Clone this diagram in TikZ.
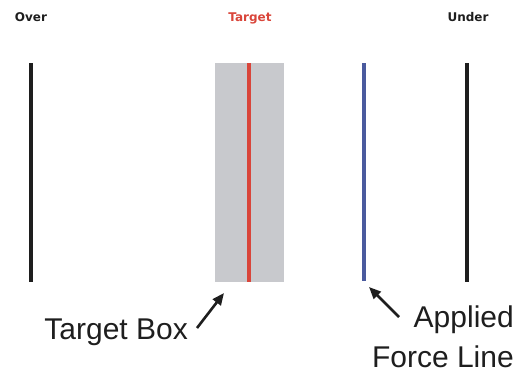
\documentclass[tikz,border=0pt]{standalone}
\usepackage{fontspec}
\setmainfont{Liberation Sans}
\newfontfamily\tagfont{DejaVu Sans}
\usepackage{xcolor}
\usetikzlibrary{arrows.meta}
\definecolor{ink}{HTML}{1E1E1E}
\definecolor{boxgray}{HTML}{C8C9CD}
\definecolor{targetred}{HTML}{D9453A}
\definecolor{forceblue}{HTML}{4A5A9E}
\tikzset{
  bar/.style={line width=3.6pt, draw=ink},
  tag/.style={font=\tagfont\bfseries\fontsize{12}{14}\selectfont, text=ink, inner sep=0pt, anchor=base},
  callout/.style={font=\fontsize{30}{40}\selectfont, text=ink, inner sep=0pt},
  ptr/.style={-{Triangle[length=12pt,width=10pt]}, line width=2.6pt, draw=ink}
}

\begin{document}
\begin{tikzpicture}[x=1pt,y=-1pt]
  \useasboundingbox (0,0) rectangle (515,375);

  % shaded target zone with the target line inside
  \fill[boxgray] (215,63) rectangle (284,282);
  \draw[line width=4.4pt, draw=targetred] (249,63) -- (249,282);

  % outer limits and the force line
  \draw[bar] (31,63) -- (31,282);
  \draw[bar] (467,63) -- (467,282);
  \draw[line width=3.6pt, draw=forceblue] (364,63) -- (364,281);

  \node[tag] (over) at (31,21) {Over};
  \node[tag, text=targetred] (target) at (250,21) {Target};
  \node[tag] (under) at (468,21) {Under};

  \node[callout, anchor=base east] (boxlabel) at (188,339) {Target Box};
  \node[callout, anchor=north east, align=right] (forcelabel) at (514,306) {Applied\\Force Line};

  \coordinate (boxtail) at (197,328);
  \coordinate (boxtip) at (224,293);
  \coordinate (forcetail) at (399,317);
  \coordinate (forcetip) at (369,287);
  \draw[ptr] (boxtail) -- (boxtip);
  \draw[ptr] (forcetail) -- (forcetip);
\end{tikzpicture}
\end{document}
